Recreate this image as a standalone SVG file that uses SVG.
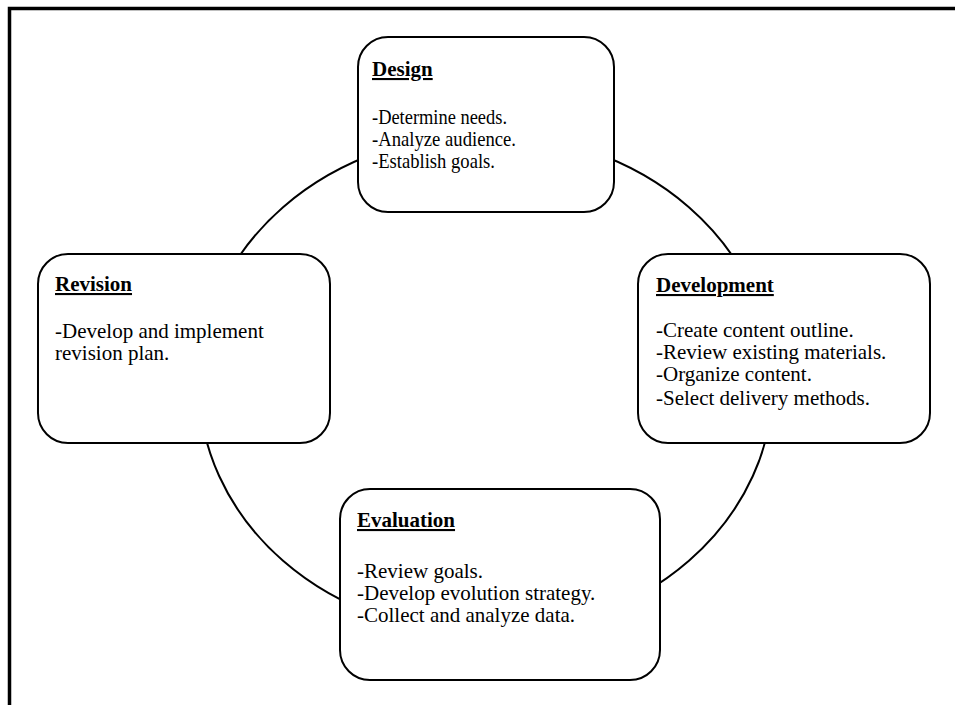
<svg xmlns="http://www.w3.org/2000/svg" width="955" height="705" viewBox="0 0 955 705">
<style>
  .box { fill: #ffffff; stroke: #000000; stroke-width: 2; }
  .ttl { font-family: "Liberation Serif", "Times New Roman", serif; font-size: 21px; font-weight: bold; text-decoration: underline; fill: #000; }
  .txt { font-family: "Liberation Serif", "Times New Roman", serif; font-size: 21px; fill: #000; }
  .conn { fill: none; stroke: #000000; stroke-width: 2; }
</style>
<rect width="955" height="705" fill="#ffffff"/>
<path d="M 9.5 705 V 8.5 H 955" fill="none" stroke="#000" stroke-width="3.5"/>
<g id="connectors">
  <ellipse class="conn" cx="486" cy="384" rx="287" ry="250"/>
</g>
<g id="design">
  <rect class="box" x="358" y="37" width="256" height="175" rx="30" ry="30"/>
  <text class="ttl" x="372" y="76">Design</text>
  <text class="txt" x="372" y="124" textLength="135" lengthAdjust="spacingAndGlyphs">-Determine needs.</text>
  <text class="txt" x="372" y="146" textLength="144" lengthAdjust="spacingAndGlyphs">-Analyze audience.</text>
  <text class="txt" x="372" y="168" textLength="123" lengthAdjust="spacingAndGlyphs">-Establish goals.</text>
</g>
<g id="revision">
  <rect class="box" x="38" y="254" width="292" height="189" rx="30" ry="30"/>
  <text class="ttl" x="55" y="291">Revision</text>
  <text class="txt" x="55" y="338">-Develop and implement</text>
  <text class="txt" x="55" y="360">revision plan.</text>
</g>
<g id="development">
  <rect class="box" x="638" y="254" width="292" height="189" rx="30" ry="30"/>
  <text class="ttl" x="656" y="292">Development</text>
  <text class="txt" x="656" y="337">-Create content outline.</text>
  <text class="txt" x="656" y="359">-Review existing materials.</text>
  <text class="txt" x="656" y="381">-Organize content.</text>
  <text class="txt" x="656" y="405">-Select delivery methods.</text>
</g>
<g id="evaluation">
  <rect class="box" x="340" y="489" width="320" height="191" rx="30" ry="30"/>
  <text class="ttl" x="357" y="527">Evaluation</text>
  <text class="txt" x="357" y="578">-Review goals.</text>
  <text class="txt" x="357" y="600">-Develop evolution strategy.</text>
  <text class="txt" x="357" y="622">-Collect and analyze data.</text>
</g>
</svg>
